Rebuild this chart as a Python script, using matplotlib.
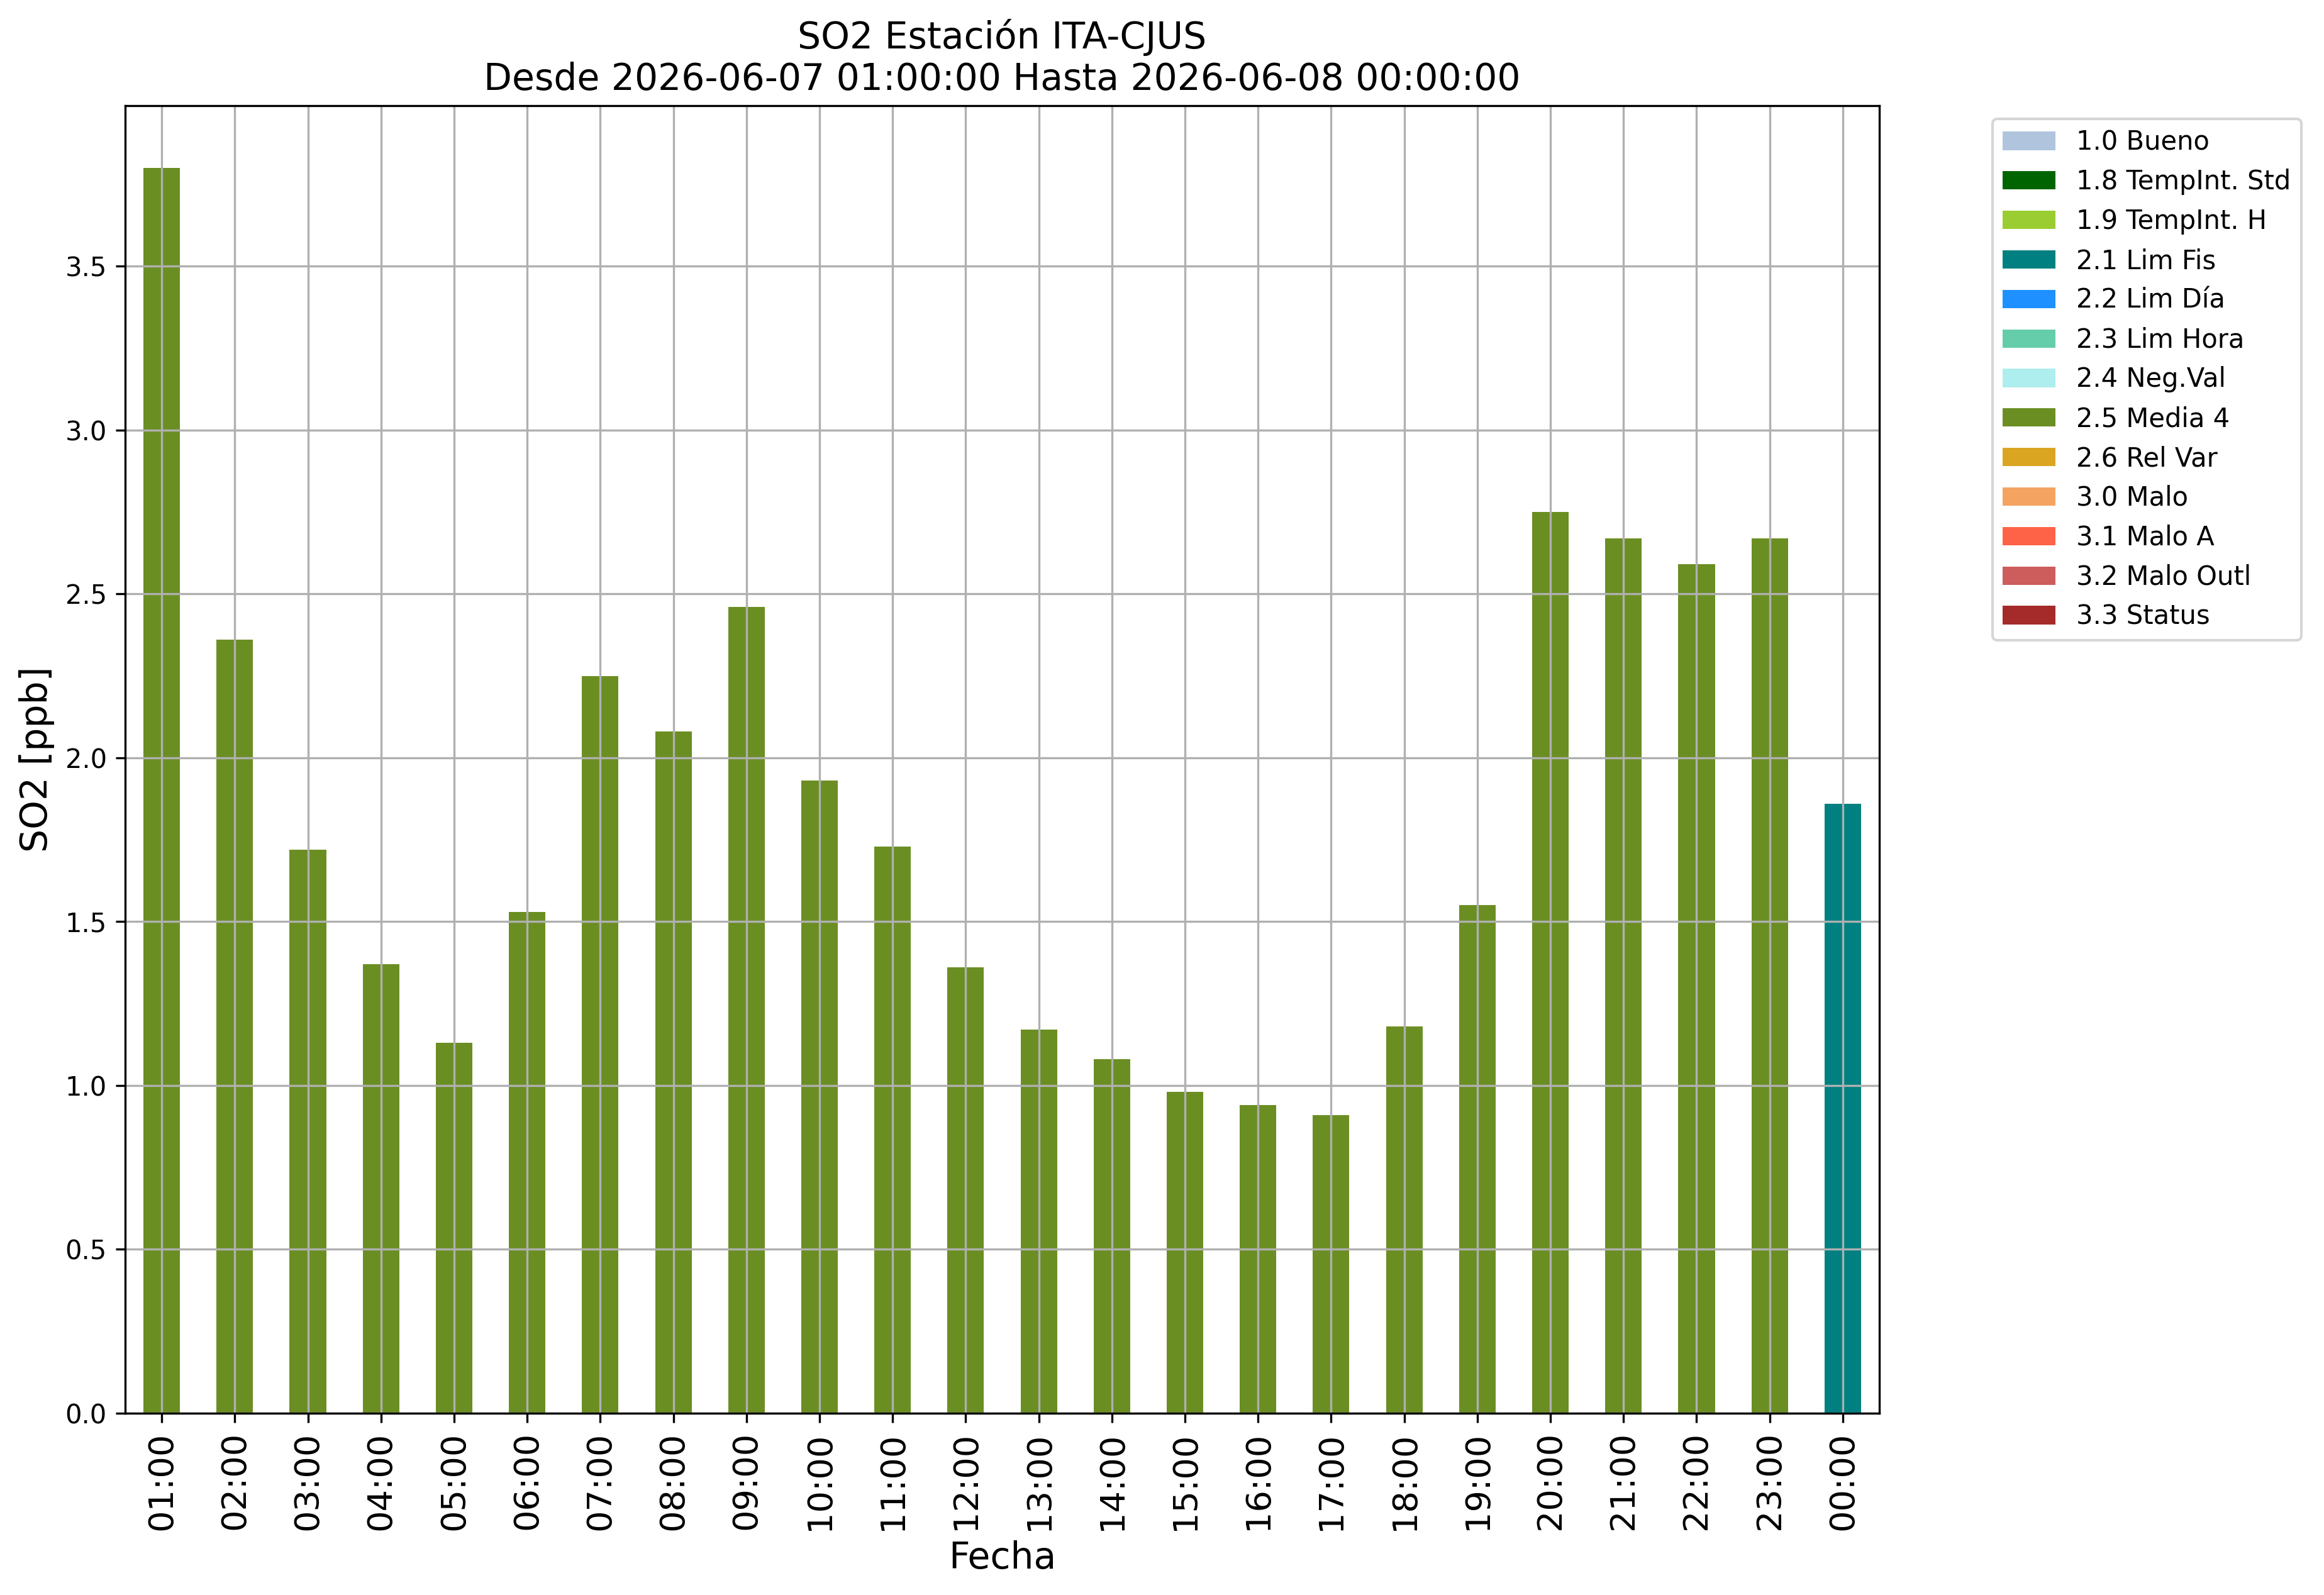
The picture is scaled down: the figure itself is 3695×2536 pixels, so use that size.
import matplotlib
matplotlib.use("Agg")
import matplotlib.pyplot as plt
import numpy as np

hours = ["01:00", "02:00", "03:00", "04:00", "05:00", "06:00", "07:00", "08:00",
         "09:00", "10:00", "11:00", "12:00", "13:00", "14:00", "15:00", "16:00",
         "17:00", "18:00", "19:00", "20:00", "21:00", "22:00", "23:00", "00:00"]
so2_values = [3.80, 2.36, 1.72, 1.37, 1.13, 1.53, 2.25, 2.08, 2.46, 1.93, 1.73, 1.36,
              1.17, 1.08, 0.98, 0.94, 0.91, 1.18, 1.55, 2.75, 2.67, 2.59, 2.67, 1.86]
flags = ["2.5 Media 4"] * 23 + ["2.1 Lim Fis"]

categories = ["1.0 Bueno", "1.8 TempInt. Std", "1.9 TempInt. H", "2.1 Lim Fis",
              "2.2 Lim Día", "2.3 Lim Hora", "2.4 Neg.Val", "2.5 Media 4",
              "2.6 Rel Var", "3.0 Malo", "3.1 Malo A", "3.2 Malo Outl", "3.3 Status"]
cat_colors = ["lightsteelblue", "darkgreen", "yellowgreen", "teal", "dodgerblue",
              "mediumaquamarine", "paleturquoise", "olivedrab", "goldenrod",
              "sandybrown", "tomato", "indianred", "brown"]

W, H, DPI = 3695, 2536, 300
fig = plt.figure(figsize=(W / DPI, H / DPI), dpi=DPI)
ax = fig.add_axes([199 / W, 1 - 2247 / H, (2988 - 199) / W, (2247 - 168) / H])

x = np.arange(len(hours))
bottom = np.zeros(len(hours))
for cat, col in zip(categories, cat_colors):
    h = np.array([v if f == cat else 0.0 for v, f in zip(so2_values, flags)])
    ax.bar(x, h, width=0.5, bottom=bottom, color=col, label=cat)
    bottom += h

ax.set_xlim(-0.5, len(hours) - 0.5)
ax.set_ylim(0, max(so2_values) * 1.05)
ax.set_xticks(x)
ax.set_xticklabels(hours, rotation=90, fontsize=13)
ax.tick_params(axis="y", labelsize=10)
ax.grid(True)
ax.set_xlabel("Fecha", fontsize=14)
ax.set_ylabel("SO2 [ppb]", fontsize=14)
ax.set_title("SO2 Estación ITA-CJUS\nDesde 2026-06-07 01:00:00 Hasta 2026-06-08 00:00:00",
             fontsize=14)
ax.legend(loc="upper left", bbox_to_anchor=(1.057, 1), fontsize=10)

fig.savefig("out.png", dpi=DPI)
